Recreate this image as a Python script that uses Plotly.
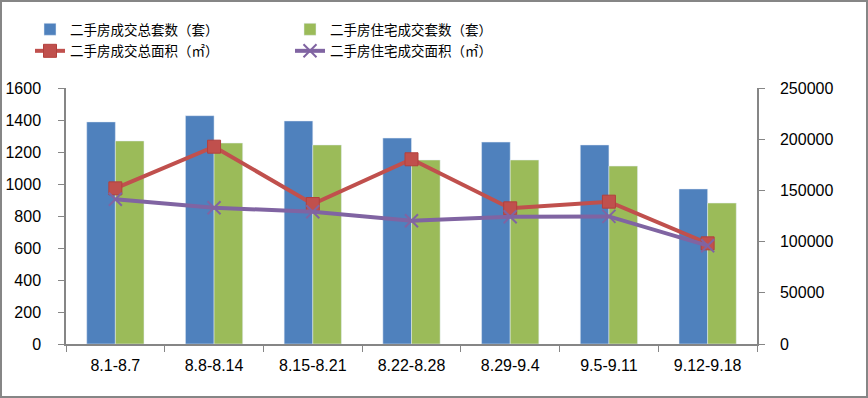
import plotly.graph_objects as go

categories = ["8.1-8.7", "8.8-8.14", "8.15-8.21", "8.22-8.28", "8.29-9.4", "9.5-9.11", "9.12-9.18"]
total_units = [1388, 1427, 1394, 1287, 1262, 1244, 969]
residential_units = [1269, 1256, 1244, 1150, 1150, 1112, 881]
total_area = [152000, 192700, 136700, 180400, 132500, 139000, 98300]
residential_area = [141300, 133100, 129200, 120400, 124300, 124600, 96000]

names = ["二手房成交总套数（套）", "二手房住宅成交套数（套）", "二手房成交总面积（㎡）", "二手房住宅成交面积（㎡）"]

W, H = 868, 398
ML, MR, MT, MB = 66, 111, 88, 54
PW, PH = W - ML - MR, H - MT - MB

fig = go.Figure()
fig.add_trace(go.Bar(x=categories, y=total_units, name=names[0], marker_color="#4F81BD",
                     legend="legend", legendgroup="a"))
fig.add_trace(go.Bar(x=categories, y=residential_units, name=names[1], marker_color="#9BBB59",
                     legend="legend2", legendgroup="b"))
fig.add_trace(go.Scatter(x=categories, y=total_area, name=names[2], yaxis="y2", mode="lines+markers",
                         line=dict(color="#C0504D", width=4),
                         marker=dict(symbol="square", size=13, color="#C0504D", line=dict(color="#B3403D", width=1)),
                         legend="legend", legendgroup="c"))
fig.add_trace(go.Scatter(x=categories, y=residential_area, name=names[3], yaxis="y2", mode="lines+markers",
                         line=dict(color="#8064A2", width=4),
                         marker=dict(symbol="x-thin", size=13, color="#8064A2", line=dict(color="#8064A2", width=2)),
                         legend="legend2", legendgroup="d"))

axis_font = dict(family="Liberation Sans, Arial, sans-serif", size=16, color="#000000")
legend_font = dict(family="Noto Sans CJK SC, sans-serif", size=13.5, color="#000000")

fig.update_layout(
    width=W, height=H,
    margin=dict(l=ML, r=MR, t=MT, b=MB, autoexpand=False),
    paper_bgcolor="white", plot_bgcolor="white",
    barmode="group", bargap=0.42, bargroupgap=0,
    xaxis=dict(showgrid=False, showline=True, linecolor="#868686", linewidth=1.5,
               ticks="outside", tickson="boundaries", ticklen=6, tickcolor="#868686",
               tickfont=axis_font, ticklabelstandoff=6, automargin=False),
    yaxis=dict(range=[0, 1600], dtick=200, showgrid=False, showline=True, linecolor="#868686", linewidth=1.5,
               ticks="outside", ticklen=6, tickcolor="#868686", tickfont=axis_font,
               ticklabelstandoff=14, zeroline=False, automargin=False),
    yaxis2=dict(range=[0, 250000], dtick=50000, overlaying="y", side="right", showgrid=False,
                showline=True, linecolor="#868686", linewidth=1.5, ticks="outside", ticklen=6,
                tickcolor="#868686", tickfont=axis_font, ticklabelstandoff=12, zeroline=False,
                tickformat="d", automargin=False),
    legend=dict(x=(30 - ML) / PW, y=1 + (MT - 14) / PH, xanchor="left", yanchor="top",
                font=legend_font, traceorder="grouped", tracegroupgap=1, bgcolor="rgba(0,0,0,0)"),
    legend2=dict(x=(290 - ML) / PW, y=1 + (MT - 14) / PH, xanchor="left", yanchor="top",
                 font=legend_font, traceorder="grouped", tracegroupgap=1, bgcolor="rgba(0,0,0,0)"),
    shapes=[dict(type="rect", xref="paper", yref="paper",
                 x0=(1 - ML) / PW, x1=(W - 1 - ML) / PW,
                 y0=-(MB - 1) / PH, y1=1 + (MT - 1) / PH,
                 line=dict(color="#868686", width=2), fillcolor="rgba(0,0,0,0)", layer="below")],
)

fig.write_html("out.html", config={"displayModeBar": False},
               post_script="document.body.style.margin='0';")
